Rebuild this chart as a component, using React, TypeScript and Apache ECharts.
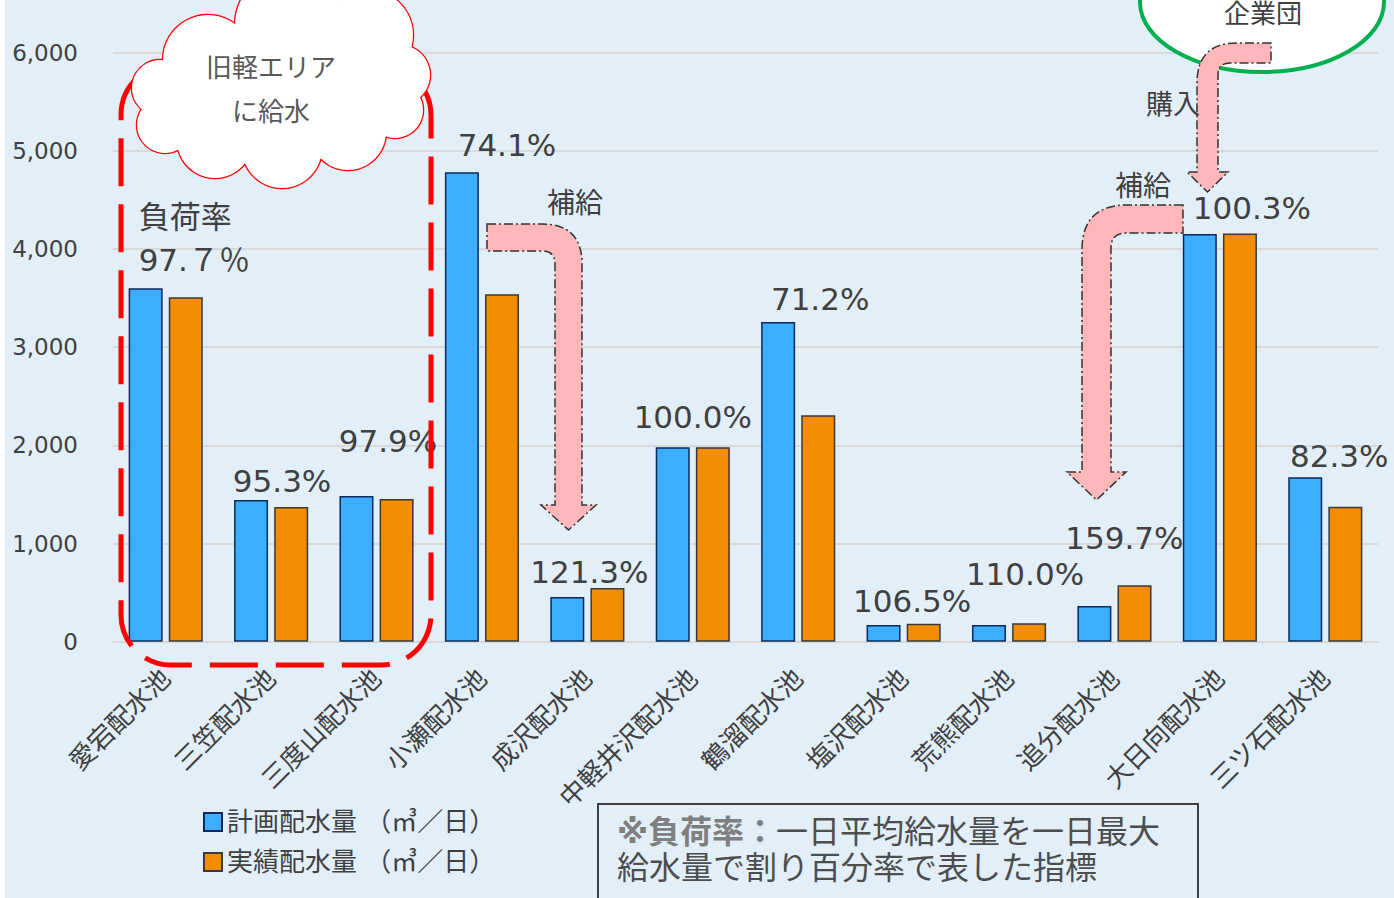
import React, { useEffect, useRef } from "react";
import * as echarts from "echarts";

// ---------- data ----------
const categories = [
  "愛宕配水池", "三笠配水池", "三度山配水池", "小瀬配水池", "成沢配水池", "中軽井沢配水池",
  "鶴溜配水池", "塩沢配水池", "荒熊配水池", "追分配水池", "大日向配水池", "三ツ石配水池",
];
const plannedVolume = [3600, 1443, 1484, 4783, 455, 1981, 3256, 170, 170, 363, 4152, 1674];
const actualVolume = [3510, 1372, 1453, 3540, 547, 1981, 2308, 183, 187, 574, 4159, 1375];
const loadRates = ["97.７％", "95.3%", "97.9%", "74.1%", "121.3%", "100.0%", "71.2%", "106.5%", "110.0%", "159.7%", "100.3%", "82.3%"];
const seriesNames = ["計画配水量 （㎥／日）", "実績配水量 （㎥／日）"];
const yMin = 0;
const yMax = 6000;
const yInterval = 1000;

// ---------- styling ----------
const FONT = "'DejaVu Sans','Noto Sans CJK JP',sans-serif";
const TXT = "#404040";
const rateLabelOffsets = [
  [-7, -1.5], [31, 1.5], [31.5, -34.5], [45, -6.5], [22, -4.5], [20, -9.5],
  [42, -2.5], [28.5, -3.5], [36, -30.5], [30, -47.5], [52, -5.5], [34, -0.5],
];

// annotation shapes (pixel layout)
const arrow1 =
  "M487 224 L542 224 Q582 224 582 264 L582 505 L596 505 L568.5 530 L541 505 L555 505 L555 264 Q555 251 542 251 L487 251 Z";
const arrow2 =
  "M1183 205 L1127 205 Q1082 205 1082 250 L1082 472 L1067 472 L1096.5 500 L1126 472 L1111 472 L1111 248 Q1111 233 1126 233 L1183 233 Z";
const arrow3 =
  "M1271 43 L1237 43 Q1197 43 1197 83 L1197 172 L1187 172 L1207.5 192 L1228 172 L1218 172 L1218 75 Q1218 63 1230 63 L1271 63 Z";
echarts.graphic.registerShape("arrowA", echarts.graphic.extendPath(arrow1, {}) as any);
echarts.graphic.registerShape("arrowB", echarts.graphic.extendPath(arrow2, {}) as any);
echarts.graphic.registerShape("arrowC", echarts.graphic.extendPath(arrow3, {}) as any);

const cloudCircles = [
  [165, 125, 28], [160, 88, 28], [208, 60, 45], [290, 25, 55], [368, 35, 45],
  [400, 75, 30], [395, 110, 28], [348, 132, 38], [282, 148, 40], [215, 140, 38],
];

const arrowStyle = {
  fill: "#FFB7B9",
  stroke: "#333333",
  lineWidth: 1.5,
  lineDash: [9, 3, 2, 3],
};

function buildOption(): any {
  const graphics: any[] = [
    // white strip at page left
    { type: "rect", shape: { x: 0, y: 0, width: 5, height: 898 }, style: { fill: "#ffffff" }, z: 100 },
    // red dashed rounded frame
    {
      type: "rect",
      shape: { x: 121, y: 65, width: 310, height: 600, r: 50 },
      style: { fill: "none", stroke: "#FF0000", lineWidth: 5, lineDash: [48, 18] },
      z: 90,
    },
  ];
  cloudCircles.forEach(([cx, cy, r]) =>
    graphics.push({ type: "circle", shape: { cx, cy, r }, style: { fill: "#fff", stroke: "#FF0000", lineWidth: 2.5 }, z: 95 })
  );
  cloudCircles.forEach(([cx, cy, r]) =>
    graphics.push({ type: "circle", shape: { cx, cy, r }, style: { fill: "#fff" }, z: 96 })
  );
  graphics.push({ type: "ellipse", shape: { cx: 282, cy: 92, rx: 112, ry: 62 }, style: { fill: "#fff" }, z: 96 });
  graphics.push(
    { type: "text", x: 271, y: 68, style: { text: "旧軽エリア", font: `26px ${FONT}`, fill: "#595959", align: "center", verticalAlign: "middle" }, z: 97 },
    { type: "text", x: 271, y: 112, style: { text: "に給水", font: `26px ${FONT}`, fill: "#595959", align: "center", verticalAlign: "middle" }, z: 97 },
    // green ellipse
    { type: "ellipse", shape: { cx: 1262, cy: 2, rx: 122, ry: 70 }, style: { fill: "#fff", stroke: "#00B050", lineWidth: 4 }, z: 90 },
    { type: "text", x: 1263, y: 14, style: { text: "企業団", font: `26px ${FONT}`, fill: TXT, align: "center", verticalAlign: "middle" }, z: 97 },
    // arrows
    { type: "arrowA", style: arrowStyle, z: 95 },
    { type: "arrowB", style: arrowStyle, z: 95 },
    { type: "arrowC", style: arrowStyle, z: 95 },
    { type: "text", x: 575, y: 203, style: { text: "補給", font: `28px ${FONT}`, fill: TXT, align: "center", verticalAlign: "middle" }, z: 97 },
    { type: "text", x: 1143, y: 186, style: { text: "補給", font: `28px ${FONT}`, fill: TXT, align: "center", verticalAlign: "middle" }, z: 97 },
    { type: "text", x: 1173, y: 104, style: { text: "購入", font: `27px ${FONT}`, fill: TXT, align: "center", verticalAlign: "middle" }, z: 97 },
    // note box
    { type: "rect", shape: { x: 598, y: 804, width: 600, height: 110 }, style: { fill: "none", stroke: "#404040", lineWidth: 2 }, z: 90 },
    {
      type: "text",
      x: 617,
      y: 850,
      style: {
        text: "{b|※負荷率：}{n|一日平均給水量を一日最大}\n{n|給水量で割り百分率で表した指標}",
        align: "left",
        verticalAlign: "middle",
        rich: {
          b: { fontFamily: FONT, fontSize: 32, fontWeight: "bold", fill: "#7F7F7F", lineHeight: 36 },
          n: { fontFamily: FONT, fontSize: 32, fill: "#4D4D4D", lineHeight: 36 },
        },
      },
      z: 97,
    }
  );

  return {
    animation: false,
    backgroundColor: "#E2EFF9",
    textStyle: { fontFamily: FONT },
    grid: { left: 113, right: 16, top: 52.7, bottom: 256.3, containLabel: false },
    legend: {
      orient: "vertical",
      left: 198,
      top: 804,
      itemWidth: 18,
      itemHeight: 18,
      itemGap: 14,
      icon: "rect",
      textStyle: { fontSize: 26, color: TXT, fontFamily: FONT },
      data: seriesNames,
    },
    xAxis: {
      type: "category",
      data: categories,
      axisTick: { show: false },
      axisLine: { lineStyle: { color: "#D9D9D9", width: 2 } },
      axisLabel: { interval: 0, rotate: 45, fontSize: 26, color: TXT, margin: 32, fontFamily: FONT },
    },
    yAxis: {
      type: "value",
      min: yMin,
      max: yMax,
      interval: yInterval,
      axisLine: { show: false },
      axisTick: { show: false },
      axisLabel: { fontSize: 23, color: TXT, margin: 35, fontFamily: FONT },
      splitLine: { lineStyle: { color: "#D9D9D9", width: 2 } },
    },
    series: [
      {
        name: seriesNames[0],
        type: "bar",
        barWidth: 34,
        barGap: "18%",
        itemStyle: { color: "#3DAEFF", borderColor: "#0B2A5B", borderWidth: 1.5 },
        data: plannedVolume.map((v, i) => ({
          value: v,
          label: {
            show: true,
            position: "top",
            distance: 5,
            offset: rateLabelOffsets[i],
            formatter: i === 0 ? "負荷率\n" + loadRates[0] : loadRates[i],
            align: i === 0 ? "left" : "center",
            lineHeight: i === 0 ? 43 : 31,
            fontSize: 31,
            color: TXT,
            fontFamily: FONT,
          },
        })),
      },
      {
        name: seriesNames[1],
        type: "bar",
        barWidth: 34,
        barGap: "18%",
        itemStyle: { color: "#F28C00", borderColor: "#3A3A3A", borderWidth: 1.5 },
        data: actualVolume,
      },
    ],
    graphic: graphics,
  };
}

export default function App() {
  const ref = useRef<HTMLDivElement>(null);
  useEffect(() => {
    if (!ref.current) return;
    const chart = echarts.init(ref.current, null, { renderer: "svg" });
    chart.setOption(buildOption());
    return () => chart.dispose();
  }, []);
  return (
    <div
      ref={ref}
      style={{ position: "absolute", left: 0, top: 0, width: 1394, height: 898 }}
    />
  );
}
